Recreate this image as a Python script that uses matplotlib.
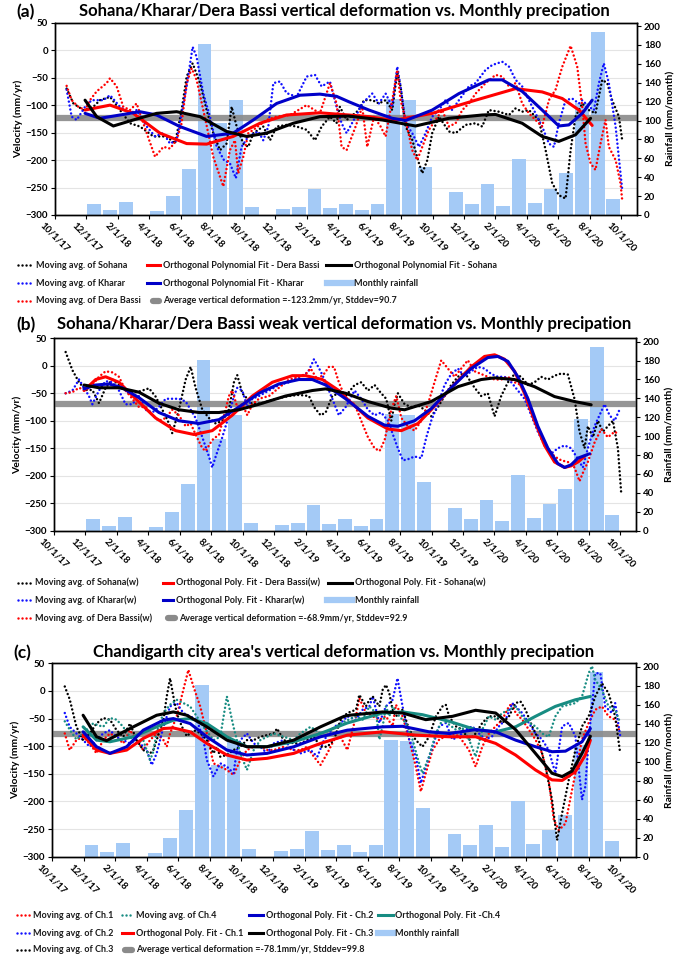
import matplotlib
matplotlib.use('Agg')
import matplotlib.pyplot as plt
from matplotlib.lines import Line2D

plt.rcParams['font.family'] = ['Lato', 'DejaVu Sans']

W, H = 699, 956

# month index 0 = 10/1/17
tickMonths = list(range(0, 37, 2))
tickLabels = ['10/1/17', '12/1/17', '2/1/18', '4/1/18', '6/1/18', '8/1/18', '10/1/18', '12/1/18',
              '2/1/19', '4/1/19', '6/1/19', '8/1/19', '10/1/19', '12/1/19', '2/1/20', '4/1/20',
              '6/1/20', '8/1/20', '10/1/20']

# monthly rainfall (mm/month), one bar per month from 10/2017
rainfall = [0, 0, 12, 5, 14, 0, 4, 20, 49, 181, 97, 122, 8, 0, 6, 8, 27, 7, 12, 5,
            12, 123, 122, 51, 0, 24, 12, 33, 10, 59, 13, 28, 44, 118, 194, 17, 0]

# ---------------- panel (a) ----------------
aSohanaX = [0.74, 1.17, 1.80, 2.44, 2.86, 3.50, 4.13, 4.77, 5.40, 5.83, 6.25, 7.10, 7.63, 8.05, 8.37, 8.75,
            9.22, 9.64, 10.06, 10.49, 10.91, 11.23, 11.55, 11.97, 12.29, 12.61, 13.24, 13.67, 14.09, 14.72,
            15.36, 16.0, 16.53, 16.95, 17.48, 17.90, 18.11, 18.54, 19.32, 19.64, 20.17, 20.59, 21.02, 21.44,
            21.76, 21.97, 22.29, 22.71, 23.14, 23.35, 23.67, 23.98, 24.41, 25.04, 25.47, 26.10, 26.74, 27.16,
            27.58, 28.22, 28.86, 29.28, 29.70, 30.13, 30.76, 31.19, 31.61, 32.03, 32.46, 32.78, 33.09, 33.52,
            33.94, 34.36, 34.79, 35.11, 35.42, 35.85, 36.06]
aSohanaY = [-70, -97, -109, -103, -91, -85, -109, -133, -139, -148, -157, -157, -170, -109, -48, -24,
            -60, -109, -151, -182, -170, -103, -139, -170, -176, -151, -139, -164, -139, -136,
            -139, -145, -164, -139, -121, -133, -103, -127, -109, -91, -91, -97, -91, -109,
            -40, -66, -139, -163, -206, -224, -200, -151, -121, -148, -151, -136, -133, -139,
            -109, -112, -118, -106, -112, -109, -127, -182, -242, -264, -270, -182, -121, -97,
            -109, -115, -54, -60, -91, -121, -164]
aKhararX = [0.74, 1.06, 1.38, 1.91, 2.33, 3.07, 3.50, 4.13, 4.77, 5.19, 5.83, 6.36, 6.89, 7.31, 7.73, 8.37,
            8.75, 9.00, 9.43, 9.85, 10.28, 10.74, 11.12, 11.50, 11.86, 12.29, 12.92, 13.24, 13.56, 13.88,
            14.30, 14.72, 15.36, 16.0, 16.53, 16.95, 17.48, 17.90, 18.22, 18.54, 19.11, 19.53, 20.17, 20.59,
            21.02, 21.44, 21.76, 21.97, 22.29, 22.71, 23.14, 23.56, 23.98, 24.41, 24.83, 25.25, 25.68, 26.31,
            26.74, 27.37, 27.80, 28.43, 28.86, 29.28, 29.70, 30.13, 30.55, 30.97, 31.40, 31.72, 32.03, 32.46,
            32.88, 33.31, 33.52, 33.94, 34.26, 34.58, 34.89, 35.21, 35.64, 35.95, 36.06]
aKhararY = [-72, -121, -127, -103, -91, -91, -82, -103, -115, -109, -139, -157, -151, -170, -164, -66,
            6, -12, -79, -121, -176, -200, -206, -233, -176, -157, -148, -164, -139, -60,
            -57, -78, -85, -48, -45, -66, -57, -103, -133, -151, -121, -97, -79, -97,
            -79, -103, -30, -66, -133, -151, -176, -151, -121, -109, -91, -109, -91, -66,
            -60, -36, -27, -21, -30, -54, -66, -91, -115, -139, -170, -176, -133, -91,
            -88, -97, -91, -103, -109, -60, -24, -60, -139, -224, -254]
aDeraX = [0.74, 1.06, 1.48, 1.91, 2.22, 2.65, 3.28, 3.50, 3.92, 4.34, 4.77, 5.19, 5.83, 6.36, 6.89, 7.31,
          7.73, 8.05, 8.37, 8.69, 9.00, 9.43, 10.06, 10.70, 11.12, 11.44, 11.65, 11.97, 12.29, 12.61,
          13.45, 14.09, 14.94, 16.0, 16.84, 17.48, 17.90, 18.22, 18.54, 19.11, 19.53, 19.85, 20.28, 20.70,
          21.02, 21.44, 21.76, 21.97, 22.29, 22.71, 23.03, 23.35, 23.77, 24.19, 24.62, 25.04, 25.47, 25.89,
          26.31, 26.74, 27.37, 28.01, 28.43, 28.86, 29.28, 29.70, 30.13, 30.55, 30.97, 31.40, 31.82, 32.25,
          32.78, 33.20, 33.52, 33.73, 34.05, 34.36, 34.68, 35.0, 35.21, 35.64, 35.95, 36.06]
aDeraY = [-65, -91, -103, -109, -91, -75, -60, -51, -66, -103, -109, -97, -151, -194, -176, -179,
          -164, -133, -60, -33, -54, -109, -194, -248, -182, -164, -224, -194, -151, -145,
          -127, -121, -118, -100, -115, -60, -97, -176, -182, -139, -103, -176, -121, -139,
          -157, -91, -36, -91, -127, -182, -200, -176, -145, -127, -109, -139, -133, -109,
          -97, -79, -60, -45, -48, -66, -60, -97, -115, -127, -139, -91, -72, -30,
          8, -30, -103, -170, -206, -218, -170, -127, -176, -200, -242, -273]

aDeraFitX = [1.91, 3.50, 4.98, 6.67, 8.37, 9.64, 11.33, 13.03, 14.72, 16.84, 18.69, 19.96, 21.5, 23.98,
             26.74, 29.28, 30.97, 32.25, 33.31, 34.15]
aDeraFitY = [-109, -100, -115, -151, -170, -171, -157, -133, -118, -114, -118, -121, -128, -115,
             -91, -70, -76, -88, -109, -137]
aKhararFitX = [1.91, 2.86, 4.13, 5.40, 6.46, 7.94, 9.64, 11.33, 12.61, 14.09, 15.57, 16.84, 17.90, 18.69,
               19.96, 21.44, 22.29, 23.98, 25.68, 27.58, 28.43, 29.70, 30.97, 32.03, 32.67, 33.52, 34.15]
aKhararFitY = [-115, -124, -118, -112, -118, -139, -157, -151, -127, -97, -82, -80, -84, -94,
               -109, -124, -128, -109, -79, -54, -54, -75, -109, -138, -136, -115, -91]
aSohanaFitX = [1.91, 2.65, 3.71, 4.98, 6.46, 7.73, 9.22, 10.91, 12.18, 13.45, 15.15, 16.84, 18.69,
               20.80, 22.92, 25.04, 27.16, 28.01, 29.70, 30.97, 32.03, 33.09, 34.05]
aSohanaFitY = [-91, -121, -138, -127, -115, -112, -121, -148, -157, -151, -133, -121, -120,
               -127, -138, -124, -118, -117, -133, -157, -166, -154, -124]
aAverage = -123.2

# ---------------- panel (b) ----------------
bSohanaX = [0.74, 1.17, 1.59, 2.01, 2.44, 2.86, 3.28, 3.71, 4.13, 4.77, 5.40, 6.04, 6.46, 6.89, 7.31, 7.52,
            7.94, 8.37, 8.69, 9.00, 9.43, 9.85, 10.28, 10.70, 11.12, 11.44, 11.65, 11.97, 12.61, 13.24,
            14.09, 14.94, 15.57, 16.21, 16.53, 16.95, 17.27, 17.69, 18.11, 18.54, 19.11, 19.53, 19.96, 20.38,
            20.80, 21.12, 21.44, 21.65, 21.86, 22.29, 22.71, 23.14, 23.56, 23.98, 24.41, 24.83, 25.25, 25.68,
            26.10, 26.74, 27.16, 27.58, 28.01, 28.43, 28.86, 29.28, 29.70, 30.13, 30.55, 30.97, 31.40, 31.82,
            32.25, 32.67, 33.09, 33.41, 33.73, 33.94, 34.26, 34.58, 34.89, 35.21, 35.53, 35.85, 36.06]
bSohanaY = [25, -8, -30, -44, -44, -68, -40, -25, -35, -50, -47, -41, -56, -80, -105, -123,
            -80, -25, -2, -40, -80, -95, -105, -100, -80, -30, -17, -50, -70, -68,
            -60, -55, -53, -55, -75, -90, -85, -55, -50, -55, -35, -30, -45, -35,
            -50, -60, -100, -70, -50, -70, -75, -72, -80, -92, -75, -55, -35, -20,
            -12, -40, -55, -50, -92, -55, -30, -15, -20, -35, -30, -20, -25, -18,
            -14, -16, -60, -120, -150, -110, -130, -100, -120, -110, -100, -150, -232]
bKhararX = [0.74, 1.17, 1.59, 1.91, 2.22, 2.44, 2.86, 3.28, 3.71, 4.13, 4.55, 4.98, 5.40, 5.83, 6.25, 6.67,
            7.10, 7.52, 7.94, 8.37, 8.69, 9.00, 9.43, 9.85, 10.06, 10.28, 10.70, 11.12, 11.44, 11.65,
            11.97, 12.29, 12.61, 13.03, 13.67, 14.30, 14.94, 15.57, 16.0, 16.21, 16.53, 16.95, 17.27, 17.69,
            18.11, 18.54, 19.11, 19.53, 19.96, 20.38, 20.80, 21.23, 21.86, 22.18, 22.50, 22.92, 23.35, 23.67,
            23.98, 24.41, 24.83, 25.25, 25.68, 26.10, 26.52, 26.95, 27.37, 27.80, 28.22, 28.65, 29.07, 29.49,
            29.91, 30.34, 30.76, 31.19, 31.61, 32.03, 32.46, 32.88, 33.31, 33.62, 33.94, 34.36, 34.68, 35.0,
            35.32, 35.64, 35.95]
bKhararY = [-50, -45, -25, -40, -55, -70, -45, -28, -30, -45, -70, -70, -55, -80, -85, -75,
            -60, -60, -60, -65, -80, -95, -130, -165, -185, -165, -130, -90, -55, -40,
            -45, -75, -60, -55, -45, -35, -30, -20, -15, -8, 12, -10, -30, -60,
            -90, -75, -45, -60, -80, -90, -85, -100, -150, -172, -170, -165, -168, -130,
            -100, -70, -35, -15, -5, -20, -10, -2, -5, -15, -20, -20, -30, -45,
            -60, -90, -120, -145, -160, -150, -145, -150, -170, -185, -150, -110, -90, -70,
            -90, -100, -80]
bDeraX = [0.74, 1.17, 1.59, 2.01, 2.44, 2.86, 3.28, 3.71, 4.13, 4.55, 4.98, 5.40, 5.83, 6.25, 6.67, 7.10,
          7.52, 7.94, 8.37, 8.69, 9.00, 9.43, 9.64, 10.06, 10.49, 10.91, 11.12, 11.33, 11.65, 11.97,
          12.29, 12.61, 13.03, 13.67, 14.30, 14.94, 15.57, 16.0, 16.32, 16.74, 17.16, 17.48, 17.80, 18.11,
          18.54, 19.11, 19.53, 19.96, 20.38, 20.70, 21.02, 21.44, 21.76, 22.08, 22.50, 22.92, 23.35, 23.77,
          24.19, 24.62, 25.04, 25.47, 25.89, 26.31, 26.74, 27.16, 27.58, 28.01, 28.43, 28.86, 29.28, 29.70,
          30.13, 30.55, 30.97, 31.40, 31.82, 32.25, 32.67, 33.09, 33.41, 33.62, 33.94, 34.36, 34.79, 35.21,
          35.64, 35.95]
bDeraY = [-50, -48, -40, -45, -35, -20, -10, -12, -20, -45, -60, -75, -75, -90, -100, -95,
          -80, -90, -110, -105, -125, -150, -155, -135, -125, -80, -55, -45, -75, -70,
          -90, -70, -60, -55, -40, -25, -20, -15, -5, -25, -15, -2, -2, -30,
          -60, -70, -100, -130, -150, -155, -135, -80, -55, -95, -110, -118, -100, -70,
          -30, 10, -5, -20, -5, 10, -10, -15, -20, -25, -25, -20, -30, -35,
          -60, -100, -125, -150, -165, -172, -175, -185, -210, -195, -175, -140, -115, -130,
          -120, -125]

bSohanaFitX = [1.91, 2.86, 4.13, 5.40, 6.67, 7.94, 9.22, 10.49, 11.76, 13.03, 14.72, 16.42, 17.27, 18.54,
               19.96, 21.44, 22.29, 23.98, 25.68, 27.16, 28.01, 29.28, 30.55, 31.82, 33.09, 34.15]
bSohanaFitY = [-35, -40, -40, -48, -68, -80, -85, -85, -80, -70, -55, -45, -42, -50,
               -65, -77, -80, -65, -38, -25, -22, -25, -38, -56, -65, -71]
bKhararFitX = [1.91, 2.65, 3.50, 4.34, 5.40, 6.67, 7.94, 9.22, 10.49, 11.76, 13.03, 14.30, 15.57, 16.42,
               17.27, 18.54, 19.96, 21.02, 21.86, 22.92, 23.98, 25.25, 26.52, 27.58, 28.22, 28.86, 29.49,
               30.13, 30.76, 31.40, 32.03, 32.46, 32.88, 33.31, 34.05]
bKhararFitY = [-42, -35, -33, -40, -58, -85, -100, -105, -98, -75, -50, -33, -25, -25,
               -35, -60, -92, -108, -110, -100, -78, -40, -5, 15, 17, 8, -20,
               -60, -110, -150, -178, -185, -180, -168, -160]
bDeraFitX = [1.91, 2.65, 3.28, 4.13, 5.19, 6.46, 7.73, 8.90, 10.06, 11.33, 12.61, 13.88, 15.15, 16.0,
             17.06, 18.11, 18.69, 19.96, 21.23, 22.08, 23.14, 23.98, 25.25, 26.52, 27.37, 28.01, 28.64,
             29.28, 29.91, 30.55, 31.19, 31.82, 32.46, 32.88, 33.31, 33.73]
bDeraFitY = [-45, -25, -20, -30, -60, -95, -118, -125, -118, -90, -55, -30, -18, -18,
             -25, -45, -62, -95, -115, -118, -105, -80, -40, -2, 17, 20, 12,
             -10, -50, -100, -145, -175, -185, -182, -175, -165]
bAverage = -68.9

# ---------------- panel (c) ----------------
cCh1X = [0.81, 1.12, 1.55, 1.97, 2.39, 2.82, 3.24, 3.67, 4.09, 4.51, 4.94, 5.36, 5.78, 6.21, 6.63, 7.06,
         7.27, 7.48, 7.90, 8.32, 8.64, 8.96, 9.39, 9.81, 10.23, 10.66, 11.08, 11.50, 11.93, 12.35,
         12.78, 13.20, 13.62, 14.05, 14.68, 15.32, 15.74, 16.17, 16.59, 17.01, 17.44, 17.86, 18.28, 18.71,
         19.26, 19.47, 19.89, 20.32, 20.74, 21.16, 21.58, 21.79, 22.21, 22.63, 23.05, 23.37, 23.68, 24.11,
         24.53, 24.95, 25.37, 25.79, 26.42, 26.84, 27.26, 27.68, 28.11, 28.53, 28.95, 29.16, 29.37, 29.79,
         30.21, 30.63, 31.05, 31.47, 31.79, 32.11, 32.53, 32.95, 33.37, 33.58, 34.0, 34.42, 34.84, 35.26,
         35.68, 36.0]
cCh1Y = [-77, -107, -89, -83, -95, -113, -89, -77, -83, -95, -71, -89, -107, -89, -77, -89,
         -101, -77, -46, 2, 38, 8, -28, -77, -131, -137, -143, -152, -125, -107,
         -101, -101, -107, -107, -101, -107, -107, -101, -119, -134, -113, -89, -83, -107,
         -46, -13, -40, -46, -52, -46, -64, -25, -46, -88, -137, -182, -149, -107,
         -88, -82, -77, -82, -107, -137, -101, -77, -64, -52, -28, -22, -40, -52,
         -70, -88, -113, -161, -233, -252, -240, -179, -119, -88, -58, -34, -28, -46,
         -52, -76]
cCh2X = [0.81, 1.12, 1.55, 1.97, 2.39, 2.82, 3.24, 3.67, 4.09, 4.51, 4.94, 5.36, 6.0, 6.32, 6.63, 7.06,
         7.48, 7.90, 8.32, 8.75, 9.17, 9.60, 9.81, 10.23, 10.66, 11.08, 11.50, 11.72, 11.93, 12.35,
         12.78, 13.20, 13.62, 14.05, 14.68, 15.32, 15.74, 16.38, 16.81, 17.23, 17.86, 18.28, 18.71,
         19.26, 19.68, 20.11, 20.32, 20.74, 21.16, 21.58, 21.89, 22.21, 22.63, 23.05, 23.37, 23.68, 24.11,
         24.53, 24.95, 25.37, 25.79, 26.21, 26.63, 27.05, 27.47, 27.89, 28.32, 28.74, 29.16, 29.37, 29.79,
         30.21, 30.63, 31.05, 31.47, 31.89, 32.32, 32.74, 33.16, 33.58, 33.79, 34.0, 34.42, 34.74, 35.05,
         35.47, 35.68, 36.0]
cCh2Y = [-40, -65, -77, -89, -101, -89, -77, -71, -83, -89, -95, -89, -107, -134, -113, -65,
         -28, -22, -40, -46, -52, -89, -125, -155, -131, -137, -149, -107, -89, -77,
         -95, -101, -113, -95, -89, -107, -113, -107, -119, -89, -65, -59, -46,
         -52, -34, -28, -10, -58, -28, -16, 23, -28, -88, -119, -167, -137, -101,
         -64, -58, -88, -82, -70, -64, -77, -88, -82, -64, -52, -22, -28, -40,
         -58, -77, -88, -107, -149, -64, -58, -82, -197, -173, -88, 32, 32, -28,
         -40, -22, -82]
cCh3X = [0.81, 1.12, 1.55, 1.97, 2.39, 2.82, 3.24, 3.67, 4.09, 4.51, 4.94, 5.36, 5.78, 6.21, 6.42, 6.63,
         7.06, 7.27, 7.48, 7.69, 7.90, 8.22, 8.54, 8.96, 9.39, 9.81, 10.23, 10.44, 10.66, 11.08,
         11.50, 11.93, 12.35, 12.78, 13.20, 13.62, 14.05, 14.26, 14.68, 15.32, 15.74, 16.17, 16.59, 17.01,
         17.44, 17.86, 18.28, 18.71, 19.26, 19.47, 19.89, 20.11, 20.32, 20.74, 20.95, 21.16, 21.37, 21.58,
         21.79, 22.21, 22.63, 23.05, 23.47, 23.89, 24.32, 24.74, 24.95, 25.16, 25.58, 26.0, 26.42, 26.84,
         27.26, 27.68, 28.11, 28.53, 28.95, 29.37, 29.68, 30.0, 30.42, 30.84, 31.26, 31.68, 32.0, 32.32,
         32.74, 33.16, 33.58, 34.0, 34.42, 34.84, 35.26, 35.68, 36.0]
cCh3Y = [8, -15, -65, -89, -77, -59, -49, -52, -71, -83, -59, -89, -107, -113, -107, -89,
         -52, -10, 23, -10, -40, -64, -82, -71, -76, -89, -113, -101, -119, -116,
         -107, -101, -89, -89, -83, -80, -77, -68, -89, -95, -95, -89, -83, -101,
         -101, -89, -53, -40, -34, -7, -28, -16, -10, -28, 2, 11, -4, -34,
         -46, -34, -70, -89, -101, -83, -46, -28, -25, -46, -64, -70, -89, -77,
         -58, -46, -46, -58, -46, -22, -19, -34, -64, -89, -137, -197, -270, -221,
         -161, -107, -64, -46, -10, 14, -4, -46, -113]
cCh4X = [0.81, 1.12, 1.55, 1.97, 2.60, 3.24, 3.67, 4.09, 4.51, 4.94, 5.36, 5.78, 6.21, 6.42, 6.63, 7.06,
         7.48, 7.90, 8.32, 8.75, 9.17, 9.60, 10.23, 10.66, 11.08, 11.50, 11.93, 12.35, 12.78, 13.20,
         13.62, 14.05, 14.68, 15.32, 15.74, 16.38, 17.01, 17.65, 18.28, 18.71, 19.26, 19.68, 20.11, 20.53,
         20.74, 20.95, 21.16, 21.37, 21.58, 22.0, 22.42, 22.84, 23.26, 23.47, 23.89, 24.32, 24.74, 25.16,
         25.58, 26.0, 26.42, 26.84, 27.26, 27.68, 28.11, 28.53, 28.95, 29.37, 29.79, 30.21, 30.63, 31.05,
         31.47, 31.89, 32.32, 32.74, 33.16, 33.58, 34.0, 34.21, 34.42, 34.84, 35.26, 35.68, 36.0]
cCh4Y = [-55, -70, -88, -77, -59, -65, -49, -52, -65, -83, -95, -89, -125, -110, -75, -40,
         -25, -16, -22, -28, -46, -65, -89, -83, -10, -65, -113, -143, -107, -89,
         -83, -77, -83, -89, -77, -65, -77, -71, -59, -53, -46, -52, -28, -40,
         -88, -64, -28, -46, -28, -46, -58, -88, -131, -149, -119, -77, -52, -61,
         -70, -67, -88, -119, -70, -46, -52, -40, -34, -28, -46, -58, -64, -77,
         -83, -46, -28, -25, -22, -10, 32, 45, 20, 2, -28, -34, -58]

cCh1FitX = [1.97, 2.82, 3.67, 4.73, 5.78, 7.06, 7.69, 8.75, 9.81, 11.08, 12.35, 13.62, 15.32, 17.01,
            18.71, 20.95, 23.05, 25.16, 26.84, 28.11, 29.37, 30.63, 31.68, 32.32, 33.16, 33.79, 34.11]
cCh1FitY = [-80, -107, -113, -107, -86, -68, -67, -74, -95, -116, -125, -122, -113, -95,
            -80, -74, -80, -83, -83, -95, -116, -143, -161, -162, -146, -116, -89]
cCh2FitX = [1.97, 2.82, 3.67, 4.73, 5.78, 7.06, 7.69, 8.75, 9.81, 11.08, 12.35, 13.62, 15.32, 17.01,
            18.71, 20.95, 22.21, 23.89, 25.16, 26.84, 28.11, 29.37, 30.63, 31.68, 32.53, 33.58, 34.11]
cCh2FitY = [-74, -101, -113, -101, -71, -53, -50, -59, -83, -107, -116, -113, -101, -83,
            -71, -65, -64, -74, -77, -70, -74, -89, -101, -110, -109, -92, -68]
cCh3FitX = [1.97, 2.82, 3.45, 5.15, 6.63, 7.69, 8.54, 9.81, 11.08, 12.35, 13.62, 15.32, 17.01, 18.5,
            18.84, 20.95, 22.21, 23.68, 25.37, 26.84, 28.11, 29.37, 30.63, 31.68, 32.32, 32.95, 33.58, 34.11]
cCh3FitY = [-44, -83, -90, -65, -44, -38, -44, -65, -89, -101, -101, -89, -65, -46,
            -44, -38, -40, -52, -46, -35, -40, -70, -113, -149, -155, -145, -113, -82]
cCh4FitX = [1.97, 2.82, 3.67, 5.15, 6.63, 7.69, 8.75, 9.81, 11.08, 12.35, 13.62, 15.32, 17.01, 18.71,
            20.95, 22.21, 23.47, 25.16, 26.84, 28.11, 29.37, 30.63, 31.89, 33.16, 34.11]
cCh4FitY = [-65, -89, -92, -83, -65, -53, -50, -59, -83, -101, -101, -92, -77, -58,
            -40, -38, -43, -55, -70, -74, -65, -46, -28, -16, -10]
cAverage = -78.1

RED = '#ff0000'
BLUE_DOT = '#1010ff'
BLUE_FIT = '#0000c8'
BLACK = '#000000'
TEAL = '#178c82'
GRAY = '#8a8a8a'
BAR = '#a4caf6'
DOTSTYLE = (0, (0.01, 1.6))
LEGSIZE = 6.5

fig = plt.figure(figsize=(W / 100, H / 100), dpi=100)


def px(x0, y0, x1, y1):
    # pixel box (top-left origin) -> figure rect
    return [x0 / W, 1 - y1 / H, (x1 - x0) / W, (y1 - y0) / H]


def makePanel(rect, letter, title, titleY, letterX, dotted, fits, avg):
    axR = fig.add_axes(rect)
    axV = axR.twinx()
    axR.yaxis.tick_right()
    axR.yaxis.set_label_position('right')
    axV.yaxis.tick_left()
    axV.yaxis.set_label_position('left')

    vmin, vmax = -300, 50
    rmax = 203.5
    axR.set_ylim(0, rmax)
    axV.set_ylim(vmin, vmax)
    axR.set_xlim(0, 37)

    # horizontal gridlines at the velocity ticks, kept behind the bars
    for v in range(-250, 50, 50):
        f = (v - vmin) / (vmax - vmin)
        axR.plot([0, 1], [f, f], transform=axR.transAxes, color='#e4e4e4', lw=0.8, zorder=0)

    axR.bar([i + 0.5 for i in range(len(rainfall))], rainfall, width=0.88, color=BAR, zorder=1)

    axV.axhline(avg, color=GRAY, lw=4.5, alpha=0.9, zorder=1)
    for xs, ys, c in dotted:
        axV.plot(xs, ys, color=c, lw=1.8, ls=DOTSTYLE, dash_capstyle='round', zorder=2)
    for xs, ys, c in fits:
        axV.plot(xs, ys, color=c, lw=2.2, zorder=3, solid_capstyle='round')

    axR.set_yticks(range(0, 201, 20))
    axV.set_yticks(range(-300, 51, 50))
    axR.set_xticks(tickMonths)
    axR.set_xticklabels(tickLabels, rotation=-45, ha='center', va='top', fontsize=7, fontweight='bold')
    for a in (axR, axV):
        a.tick_params(direction='out', length=3, width=0.8, labelsize=7, pad=2)
        for lab in a.get_yticklabels():
            lab.set_fontweight('bold')
        for s in a.spines.values():
            s.set_linewidth(1.0)
            s.set_color('black')
    axR.tick_params(axis='x', pad=1)
    axV.set_ylabel('Velocity (mm/yr)', fontsize=7.5, fontweight='bold', labelpad=2)
    axR.set_ylabel('Rainfall (mm/month)', fontsize=7.5, fontweight='bold', labelpad=4)

    fig.text(letterX / W, 1 - (titleY + 1) / H, letter, fontsize=12.5, fontweight='bold',
             ha='left', va='center')
    fig.text(344 / W, 1 - titleY / H, title, fontsize=12, fontweight='bold', ha='center', va='center')
    return axR, axV


def legendItem(kind, color, label, x0, x1, tx, y):
    fy = 1 - y / H
    xs = [x0 / W, x1 / W]
    if kind == 'dot':
        ln = Line2D(xs, [fy, fy], color=color, lw=1.8, ls=DOTSTYLE, dash_capstyle='round')
    elif kind == 'line':
        ln = Line2D(xs, [fy, fy], color=color, lw=2.2)
    elif kind == 'avg':
        ln = Line2D(xs, [fy, fy], color=GRAY, lw=4.5, solid_capstyle='round')
    else:
        ln = Line2D(xs, [fy, fy], color=BAR, lw=4.5)
    fig.add_artist(ln)
    fig.text(tx / W, fy, label, fontsize=LEGSIZE, fontweight='bold', ha='left', va='center', color='#1a1a1a')


# panel (a)
makePanel(px(55, 22.7, 637, 215), '(a)',
          'Sohana/Kharar/Dera Bassi vertical deformation vs. Monthly precipation', 11, 16,
          [(aSohanaX, aSohanaY, BLACK), (aKhararX, aKhararY, BLUE_DOT), (aDeraX, aDeraY, RED)],
          [(aDeraFitX, aDeraFitY, RED), (aKhararFitX, aKhararFitY, BLUE_FIT), (aSohanaFitX, aSohanaFitY, BLACK)],
          aAverage)
legendItem('dot', BLACK, 'Moving avg. of Sohana', 18, 31, 36, 265.5)
legendItem('dot', BLUE_DOT, 'Moving avg. of Kharar', 18, 31, 36, 283.3)
legendItem('dot', RED, 'Moving avg. of Dera Bassi', 18, 31, 36, 300.8)
legendItem('line', RED, 'Orthogonal Polynomial Fit - Dera Bassi', 147, 160, 163, 265.5)
legendItem('line', BLUE_FIT, 'Orthogonal Polynomial Fit - Kharar', 147, 160, 163, 283.3)
legendItem('avg', GRAY, 'Average vertical deformation =-123.2mm/yr, Stddev=90.7', 153, 159, 163, 300.8)
legendItem('line', BLACK, 'Orthogonal Polynomial Fit - Sohana', 326, 351, 354, 265.5)
legendItem('bar', BAR, 'Monthly rainfall', 327, 352, 354, 283.3)

# panel (b)
makePanel(px(54, 338.3, 636, 530.7), '(b)',
          'Sohana/Kharar/Dera Bassi weak vertical deformation vs. Monthly precipation', 324, 16,
          [(bSohanaX, bSohanaY, BLACK), (bKhararX, bKhararY, BLUE_DOT), (bDeraX, bDeraY, RED)],
          [(bDeraFitX, bDeraFitY, RED), (bKhararFitX, bKhararFitY, BLUE_FIT), (bSohanaFitX, bSohanaFitY, BLACK)],
          bAverage)
legendItem('dot', BLACK, 'Moving avg. of Sohana(w)', 18, 31, 35, 582.7)
legendItem('dot', BLUE_DOT, 'Moving avg. of Kharar(w)', 18, 31, 35, 600.3)
legendItem('dot', RED, 'Moving avg. of Dera Bassi(w)', 18, 31, 35, 618.3)
legendItem('line', RED, 'Orthogonal Poly. Fit - Dera Bassi(w)', 163, 173, 176, 582.7)
legendItem('line', BLUE_FIT, 'Orthogonal Poly. Fit - Kharar(w)', 163, 173, 176, 600.3)
legendItem('avg', GRAY, 'Average vertical deformation =-68.9mm/yr, Stddev=92.9', 168, 175, 179, 618.3)
legendItem('line', BLACK, 'Orthogonal Poly. Fit - Sohana(w)', 328, 352, 355, 582.7)
legendItem('bar', BAR, 'Monthly rainfall', 327, 352, 355, 600.3)

# panel (c)
makePanel(px(52, 663.3, 636, 856.7), "(c)",
          "Chandigarth city area's vertical deformation vs. Monthly precipation", 652, 13,
          [(cCh1X, cCh1Y, RED), (cCh2X, cCh2Y, BLUE_DOT), (cCh3X, cCh3Y, BLACK), (cCh4X, cCh4Y, TEAL)],
          [(cCh4FitX, cCh4FitY, TEAL), (cCh1FitX, cCh1FitY, RED), (cCh2FitX, cCh2FitY, BLUE_FIT),
           (cCh3FitX, cCh3FitY, BLACK)],
          cAverage)
legendItem('dot', RED, 'Moving avg. of Ch.1', 17, 30, 33, 915)
legendItem('dot', BLUE_DOT, 'Moving avg. of Ch.2', 17, 30, 33, 933.3)
legendItem('dot', BLACK, 'Moving avg. of Ch.3', 17, 30, 33, 950)
legendItem('dot', TEAL, 'Moving avg. of Ch.4', 122, 133, 136, 915)
legendItem('line', RED, 'Orthogonal Poly. Fit - Ch.1', 122, 133, 136, 933.3)
legendItem('avg', GRAY, 'Average vertical deformation =-78.1mm/yr, Stddev=99.8', 125, 132, 136, 950)
legendItem('line', BLUE_FIT, 'Orthogonal Poly. Fit - Ch.2', 249, 263, 266, 915)
legendItem('line', BLACK, 'Orthogonal Poly. Fit - Ch.3', 249, 263, 266, 933.3)
legendItem('line', TEAL, 'Orthogonal Poly. Fit -Ch.4', 378, 393, 395, 915)
legendItem('bar', BAR, 'Monthly rainfall', 378, 393, 395, 933.3)

fig.savefig('out.png', dpi=100)
